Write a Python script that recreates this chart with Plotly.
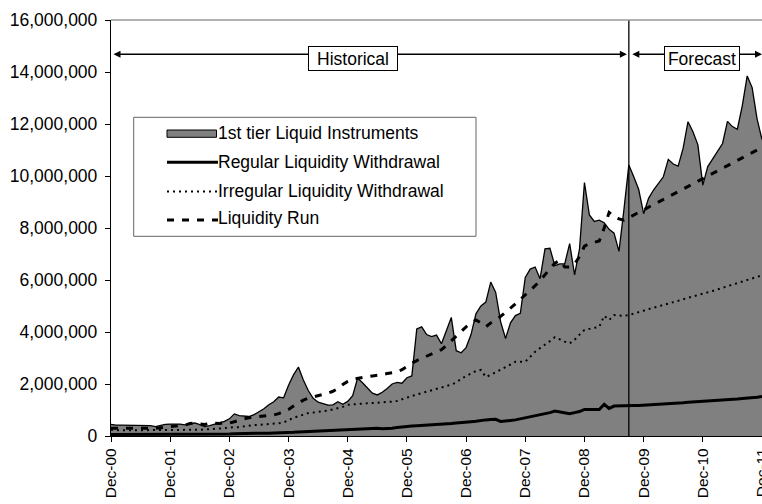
import numpy as np
import pandas as pd
import plotly.graph_objects as go

# Monthly observations, Dec-2000 .. Dec-2011 (values in millions)
months = pd.date_range("2000-12-01", periods=133, freq="MS").strftime("%b-%y").tolist()
tick_months = months[::12]

liquid_instruments = [
    0.45, 0.42, 0.42, 0.42, 0.41, 0.42, 0.42, 0.42, 0.40, 0.36, 0.41, 0.45,
    0.46, 0.46, 0.46, 0.43, 0.46, 0.50, 0.44, 0.36, 0.40, 0.46, 0.52, 0.56,
    0.66, 0.85, 0.78, 0.76, 0.75, 0.82, 0.92, 1.05, 1.20, 1.32, 1.50, 1.47,
    1.95, 2.35, 2.65, 2.15, 1.75, 1.45, 1.30, 1.24, 1.19, 1.20, 1.32, 1.22,
    1.33, 1.55, 2.22, 2.05, 1.85, 1.65, 1.58, 1.68, 1.83, 2.00, 2.06, 2.03,
    2.24, 2.31, 4.12, 4.20, 3.90, 3.82, 3.88, 3.55, 4.05, 4.56, 3.28, 3.20,
    3.40, 3.90, 4.70, 5.00, 5.15, 5.92, 5.52, 4.40, 3.75, 4.35, 4.63, 4.72,
    6.10, 6.42, 6.50, 6.05, 7.20, 7.22, 6.55, 6.62, 6.62, 7.40, 6.20, 7.20,
    9.75, 8.50, 8.25, 8.30, 8.20, 7.95, 7.80, 7.10, 8.70, 10.42, 9.97, 9.48,
    8.55, 9.14, 9.46, 9.72, 9.97, 10.64, 10.46, 10.38, 11.06, 12.09, 11.70, 11.20,
    9.65, 10.36, 10.65, 10.95, 11.25, 12.10, 11.90, 11.80, 12.70, 13.85, 13.40, 12.20,
    11.40,
]

regular_withdrawal = [
    0.06, 0.06, 0.06, 0.06, 0.06, 0.06, 0.06, 0.06, 0.06, 0.06, 0.06, 0.06,
    0.06, 0.06, 0.06, 0.06, 0.06, 0.06, 0.06, 0.06, 0.06, 0.06, 0.07, 0.07,
    0.08, 0.09, 0.09, 0.10, 0.10, 0.10, 0.11, 0.11, 0.11, 0.12, 0.12, 0.12,
    0.13, 0.14, 0.15, 0.16, 0.17, 0.18, 0.19, 0.20, 0.21, 0.22, 0.23, 0.24,
    0.25, 0.26, 0.27, 0.28, 0.30, 0.31, 0.30, 0.28, 0.28, 0.30, 0.33, 0.35,
    0.38, 0.38, 0.39, 0.40, 0.41, 0.42, 0.44, 0.45, 0.46, 0.48, 0.50, 0.51,
    0.53, 0.55, 0.57, 0.60, 0.62, 0.63, 0.64, 0.56, 0.57, 0.60, 0.62, 0.66,
    0.70, 0.74, 0.78, 0.82, 0.84, 0.90, 0.96, 0.92, 0.88, 0.86, 0.90, 0.94,
    1.02, 1.02, 1.02, 1.02, 1.22, 1.06, 1.15, 1.16, 1.16, 1.16, 1.17, 1.17,
    1.18, 1.20, 1.21, 1.22, 1.23, 1.25, 1.26, 1.27, 1.28, 1.30, 1.31, 1.32,
    1.33, 1.35, 1.36, 1.37, 1.38, 1.40, 1.41, 1.42, 1.44, 1.45, 1.47, 1.49,
    1.52,
]

irregular_withdrawal = [
    0.24, 0.22, 0.22, 0.22, 0.22, 0.22, 0.22, 0.22, 0.22, 0.22, 0.22, 0.23,
    0.23, 0.23, 0.23, 0.23, 0.24, 0.24, 0.24, 0.25, 0.26, 0.27, 0.28, 0.30,
    0.33, 0.33, 0.34, 0.37, 0.40, 0.42, 0.43, 0.44, 0.45, 0.47, 0.49, 0.52,
    0.62, 0.70, 0.76, 0.82, 0.88, 0.90, 0.92, 0.95, 0.98, 1.02, 1.06, 1.12,
    1.20, 1.22, 1.24, 1.25, 1.26, 1.27, 1.28, 1.29, 1.30, 1.32, 1.35, 1.42,
    1.48, 1.54, 1.60, 1.65, 1.70, 1.75, 1.80, 1.87, 1.92, 1.98, 2.05, 2.20,
    2.30, 2.40, 2.50, 2.54, 2.27, 2.35, 2.45, 2.54, 2.62, 2.75, 2.86, 2.86,
    2.86, 3.05, 3.24, 3.38, 3.50, 3.65, 3.80, 3.70, 3.63, 3.56, 3.70, 3.90,
    4.08, 4.12, 4.16, 4.20, 4.62, 4.46, 4.65, 4.63, 4.62, 4.65, 4.70, 4.76,
    4.82, 4.88, 4.93, 4.98, 5.03, 5.09, 5.15, 5.20, 5.26, 5.31, 5.36, 5.42,
    5.48, 5.53, 5.58, 5.64, 5.70, 5.75, 5.80, 5.86, 5.92, 5.98, 6.03, 6.09,
    6.18,
]

liquidity_run = [
    0.30, 0.30, 0.29, 0.30, 0.30, 0.29, 0.30, 0.31, 0.31, 0.30, 0.32, 0.34,
    0.36, 0.38, 0.40, 0.42, 0.48, 0.50, 0.46, 0.44, 0.50, 0.48, 0.48, 0.52,
    0.50, 0.55, 0.62, 0.66, 0.70, 0.74, 0.75, 0.77, 0.79, 0.81, 0.86, 0.93,
    1.02, 1.15, 1.28, 1.38, 1.45, 1.50, 1.54, 1.58, 1.65, 1.72, 1.82, 1.98,
    2.10, 2.18, 2.22, 2.25, 2.28, 2.31, 2.33, 2.36, 2.40, 2.43, 2.46, 2.55,
    2.68, 2.80, 2.90, 2.98, 3.06, 3.14, 3.22, 3.32, 3.48, 3.66, 3.86, 4.05,
    4.20, 4.35, 4.46, 4.35, 4.20, 4.35, 4.45, 4.60, 4.78, 4.92, 5.08, 5.25,
    5.42, 5.58, 5.78, 5.98, 6.20, 6.45, 6.65, 6.75, 6.50, 6.50, 6.62, 6.90,
    7.30, 7.40, 7.45, 7.50, 8.00, 8.60, 8.45, 8.35, 8.30, 8.40, 8.50, 8.60,
    8.72, 8.82, 8.92, 9.02, 9.12, 9.22, 9.32, 9.42, 9.52, 9.60, 9.70, 9.80,
    9.90, 10.00, 10.10, 10.20, 10.30, 10.40, 10.50, 10.60, 10.70, 10.80, 10.90, 11.00,
    11.10,
]

series_names = [
    "1st tier Liquid Instruments",
    "Regular Liquidity Withdrawal",
    "Irregular Liquidity Withdrawal",
    "Liquidity Run",
]
forecast_start = "Sep-09"
y_ticks = list(range(0, 16_000_001, 2_000_000))

MN = 1e6
FONT = "Liberation Sans, Arial, sans-serif"
W, H = 762, 504
ML, MR, MT, MB = 111, 0, 20, 68
PW, PH = W - ML - MR, H - MT - MB

DASH_RUN = "7px,8px"
DASH_IRR = "2px,4px"


def px_x(x):
    return (x - ML) / PW


def px_y(y):
    return (H - MB - y) / PH


fig = go.Figure()
fig.add_trace(go.Scatter(
    x=months, y=np.array(liquid_instruments) * MN, name=series_names[0],
    mode="lines", fill="tozeroy", fillcolor="#808080",
    line=dict(color="black", width=1.3), showlegend=False,
))
fig.add_trace(go.Scatter(
    x=months, y=np.array(regular_withdrawal) * MN, name=series_names[1],
    mode="lines", line=dict(color="black", width=3), showlegend=False,
))
fig.add_trace(go.Scatter(
    x=months, y=np.array(irregular_withdrawal) * MN, name=series_names[2],
    mode="lines", line=dict(color="black", width=2, dash=DASH_IRR), showlegend=False,
))
fig.add_trace(go.Scatter(
    x=months, y=np.array(liquidity_run) * MN, name=series_names[3],
    mode="lines", line=dict(color="black", width=3, dash=DASH_RUN), showlegend=False,
))

split = months.index(forecast_start)
last = len(months) - 1
arrow_y = 14.68 * MN

shapes = [
    # forecast boundary
    dict(type="line", xref="x", yref="paper", x0=split, x1=split, y0=0, y1=1,
         line=dict(color="black", width=1.3), layer="above"),
    # top frame edge
    dict(type="line", xref="paper", yref="paper", x0=0, x1=1, y0=1, y1=1,
         line=dict(color="#999999", width=1.3), layer="above"),
    # legend frame
    dict(type="rect", xref="paper", yref="paper",
         x0=px_x(133.7), x1=px_x(476), y0=px_y(236.3), y1=px_y(117.3),
         fillcolor="white", line=dict(color="#666666", width=1), layer="above"),
    # legend keys
    dict(type="rect", xref="paper", yref="paper",
         x0=px_x(167), x1=px_x(216.5), y0=px_y(137.3), y1=px_y(130),
         fillcolor="#808080", line=dict(color="black", width=1), layer="above"),
    dict(type="line", xref="paper", yref="paper",
         x0=px_x(167), x1=px_x(218), y0=px_y(162.3), y1=px_y(162.3),
         line=dict(color="black", width=3), layer="above"),
    dict(type="line", xref="paper", yref="paper",
         x0=px_x(167), x1=px_x(218), y0=px_y(191.5), y1=px_y(191.5),
         line=dict(color="black", width=2, dash=DASH_IRR), layer="above"),
    dict(type="line", xref="paper", yref="paper",
         x0=px_x(167), x1=px_x(218), y0=px_y(220), y1=px_y(220),
         line=dict(color="black", width=3, dash=DASH_RUN), layer="above"),
]

annotations = [
    dict(x=split - 0.4, y=arrow_y, ax=0.2, ay=arrow_y, xref="x", yref="y",
         axref="x", ayref="y", text="", showarrow=True, arrowside="end+start",
         arrowhead=2, startarrowhead=2, arrowsize=1, startarrowsize=1,
         arrowwidth=1.4, arrowcolor="black"),
    dict(x=last, y=arrow_y, ax=split + 0.4, ay=arrow_y, xref="x", yref="y",
         axref="x", ayref="y", text="", showarrow=True, arrowside="end+start",
         arrowhead=2, startarrowhead=2, arrowsize=1, startarrowsize=1,
         arrowwidth=1.4, arrowcolor="black"),
    dict(x=px_x(352.5), y=px_y(58.3), xref="paper", yref="paper", text="Historical",
         xanchor="center", yanchor="middle",
         showarrow=False, bgcolor="white", bordercolor="black", borderwidth=1,
         borderpad=1, width=86, height=21, font=dict(size=17.5, color="black")),
    dict(x=px_x(701.7), y=px_y(58.3), xref="paper", yref="paper", text="Forecast",
         xanchor="center", yanchor="middle",
         showarrow=False, bgcolor="white", bordercolor="black", borderwidth=1,
         borderpad=1, width=72, height=21, font=dict(size=17.5, color="black")),
]
for name, ypx in zip(series_names, [133.3, 161.7, 190.7, 218.3]):
    annotations.append(dict(
        x=px_x(216), y=px_y(ypx), xref="paper", yref="paper", text=name,
        showarrow=False, xanchor="left", yanchor="middle",
        font=dict(size=17.5, color="black"),
    ))

fig.update_layout(
    width=W, height=H,
    margin=dict(l=ML, r=MR, t=MT, b=MB, pad=0, autoexpand=False),
    paper_bgcolor="white", plot_bgcolor="white",
    font=dict(family=FONT, color="black", size=17.5),
    shapes=shapes, annotations=annotations, showlegend=False,
    xaxis=dict(
        type="category", range=[0, last], tickmode="array",
        tickvals=tick_months, ticktext=tick_months, tickangle=-90,
        ticks="outside", ticklen=5, tickwidth=1.3, tickcolor="black",
        showline=True, linecolor="black", linewidth=1.3, showgrid=False,
        zeroline=False, automargin=False, tickfont=dict(size=15.5, family=FONT),
    ),
    yaxis=dict(
        range=[0, 16 * MN], tickmode="array", tickvals=y_ticks, tickformat=",d",
        ticks="outside", ticklen=5, tickwidth=1.3, tickcolor="black",
        showline=True, linecolor="black", linewidth=1.3, showgrid=False,
        zeroline=False, automargin=False, ticklabelstandoff=4,
        tickfont=dict(size=17.5, family=FONT),
    ),
)

fig.write_html("out.html")
